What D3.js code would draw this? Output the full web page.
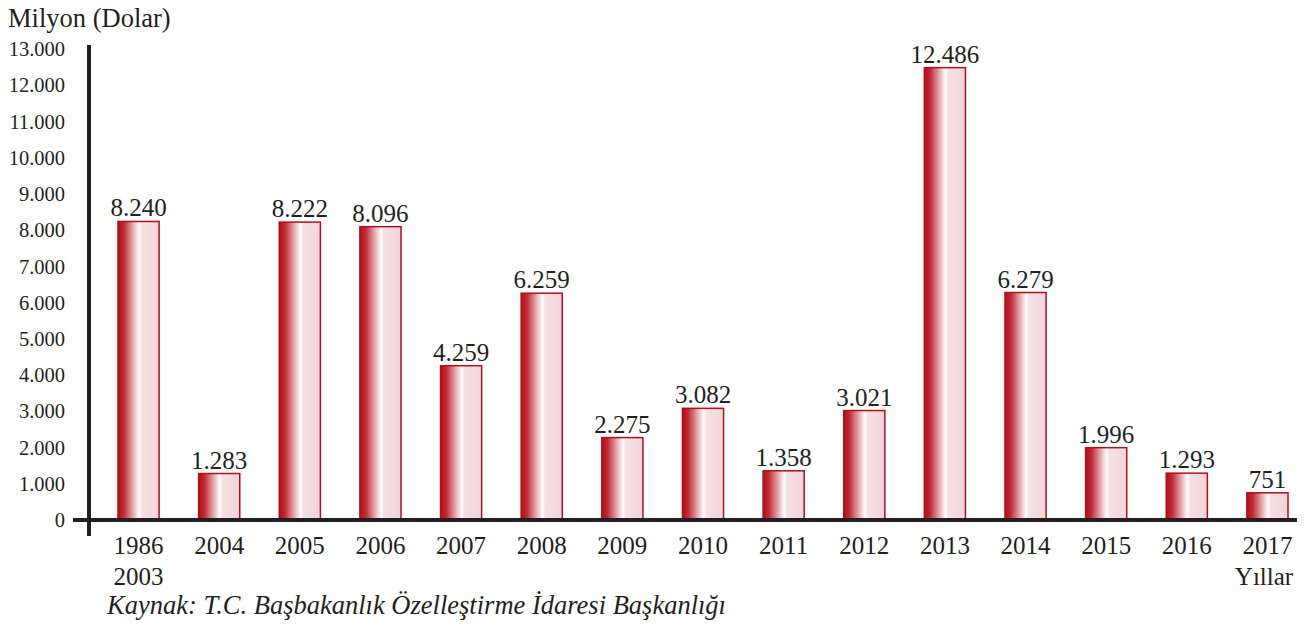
<!DOCTYPE html>
<html>
<head>
<meta charset="utf-8">
<script src="https://cdn.jsdelivr.net/npm/d3@7"></script>
<style>
  body { margin: 0; background: #fff; }
</style>
</head>
<body>
<div id="chart"></div>
<script>
// data
const years = ["1986-2003", "2004", "2005", "2006", "2007", "2008", "2009", "2010",
  "2011", "2012", "2013", "2014", "2015", "2016", "2017"];
const values = [8240, 1283, 8222, 8096, 4259, 6259, 2275, 3082, 1358, 3021, 12486, 6279, 1996, 1293, 751];
const valueLabels = ["8.240", "1.283", "8.222", "8.096", "4.259", "6.259", "2.275", "3.082",
  "1.358", "3.021", "12.486", "6.279", "1.996", "1.293", "751"];
const yTicks = [0, 1000, 2000, 3000, 4000, 5000, 6000, 7000, 8000, 9000, 10000, 11000, 12000, 13000];

const width = 1304, height = 625;
const FONT = "'Liberation Serif', 'Times New Roman', Times, serif";
const INK = "#231f20";

const svg = d3.select("#chart")
  .append("svg")
    .attr("width", width)
    .attr("height", height)
    .attr("font-family", FONT);

// bar gradient: dark red on the left, white streak, then pale pink
const grad = svg.append("defs").append("linearGradient")
  .attr("id", "barGrad")
  .attr("x1", "0%").attr("x2", "100%").attr("y1", "0%").attr("y2", "0%");
grad.append("stop").attr("offset", "0%").attr("stop-color", "#b00f1b");
grad.append("stop").attr("offset", "14%").attr("stop-color", "#bf2a34");
grad.append("stop").attr("offset", "38%").attr("stop-color", "#e8b2b7");
grad.append("stop").attr("offset", "52%").attr("stop-color", "#ffffff");
grad.append("stop").attr("offset", "58%").attr("stop-color", "#f6e0e2");
grad.append("stop").attr("offset", "100%").attr("stop-color", "#f1d5d8");

// scales
const x = d3.scaleBand()
  .domain(years)
  .range([118, 1288])
  .paddingInner(0.49)
  .paddingOuter(0);

const y = d3.scaleLinear()
  .domain([0, 13000])
  .range([520, 49]);

const tickFmt = d => d === 0 ? "0" : d3.format(",.0f")(d).replace(/,/g, ".");

// y tick labels (no tick marks)
svg.append("g")
  .selectAll("text")
  .data(yTicks)
  .enter()
  .append("text")
    .attr("x", 65)
    .attr("y", d => y(d))
    .attr("dy", "0.35em")
    .attr("text-anchor", "end")
    .attr("font-size", 20.5)
    .attr("fill", INK)
    .text(tickFmt);

// bars
svg.selectAll(".bar")
  .data(values)
  .enter()
  .append("rect")
    .attr("class", "bar")
    .attr("x", (d, i) => x(years[i]))
    .attr("y", d => y(d))
    .attr("width", x.bandwidth())
    .attr("height", d => y(0) - y(d))
    .attr("fill", "url(#barGrad)")
    .attr("stroke", "#b00f1b")
    .attr("stroke-width", 1.5);

// value labels
svg.selectAll(".val")
  .data(values)
  .enter()
  .append("text")
    .attr("class", "val")
    .attr("x", (d, i) => x(years[i]) + x.bandwidth() / 2)
    .attr("y", d => y(d) - 5)
    .attr("text-anchor", "middle")
    .attr("font-size", 25)
    .attr("fill", INK)
    .text((d, i) => valueLabels[i]);

// axis lines
svg.append("line")
  .attr("x1", 89).attr("x2", 89)
  .attr("y1", 45).attr("y2", 536)
  .attr("stroke", INK)
  .attr("stroke-width", 4);

svg.append("line")
  .attr("x1", 73).attr("x2", 1297)
  .attr("y1", y(0)).attr("y2", y(0))
  .attr("stroke", INK)
  .attr("stroke-width", 4);

// x labels
svg.append("g")
  .selectAll("text")
  .data(years)
  .enter()
  .append("text")
    .attr("y", 554)
    .attr("text-anchor", "middle")
    .attr("font-size", 25)
    .attr("fill", INK)
    .each(function(d) {
      const cx = x(d) + x.bandwidth() / 2;
      d.split("-").forEach((p, k) => {
        d3.select(this).append("tspan")
          .attr("x", cx)
          .attr("dy", k === 0 ? 0 : "1.25em")
          .text(p);
      });
    });

// titles
svg.append("text")
  .attr("x", 8)
  .attr("y", 27)
  .attr("font-size", 26.5)
  .attr("fill", INK)
  .text("Milyon (Dolar)");

svg.append("text")
  .attr("x", 1264)
  .attr("y", 585)
  .attr("text-anchor", "middle")
  .attr("font-size", 25)
  .attr("fill", INK)
  .text("Yıllar");

svg.append("text")
  .attr("x", 107)
  .attr("y", 614)
  .attr("font-size", 26.5)
  .attr("font-style", "italic")
  .attr("fill", INK)
  .text("Kaynak: T.C. Başbakanlık Özelleştirme İdaresi Başkanlığı");
</script>
</body>
</html>
